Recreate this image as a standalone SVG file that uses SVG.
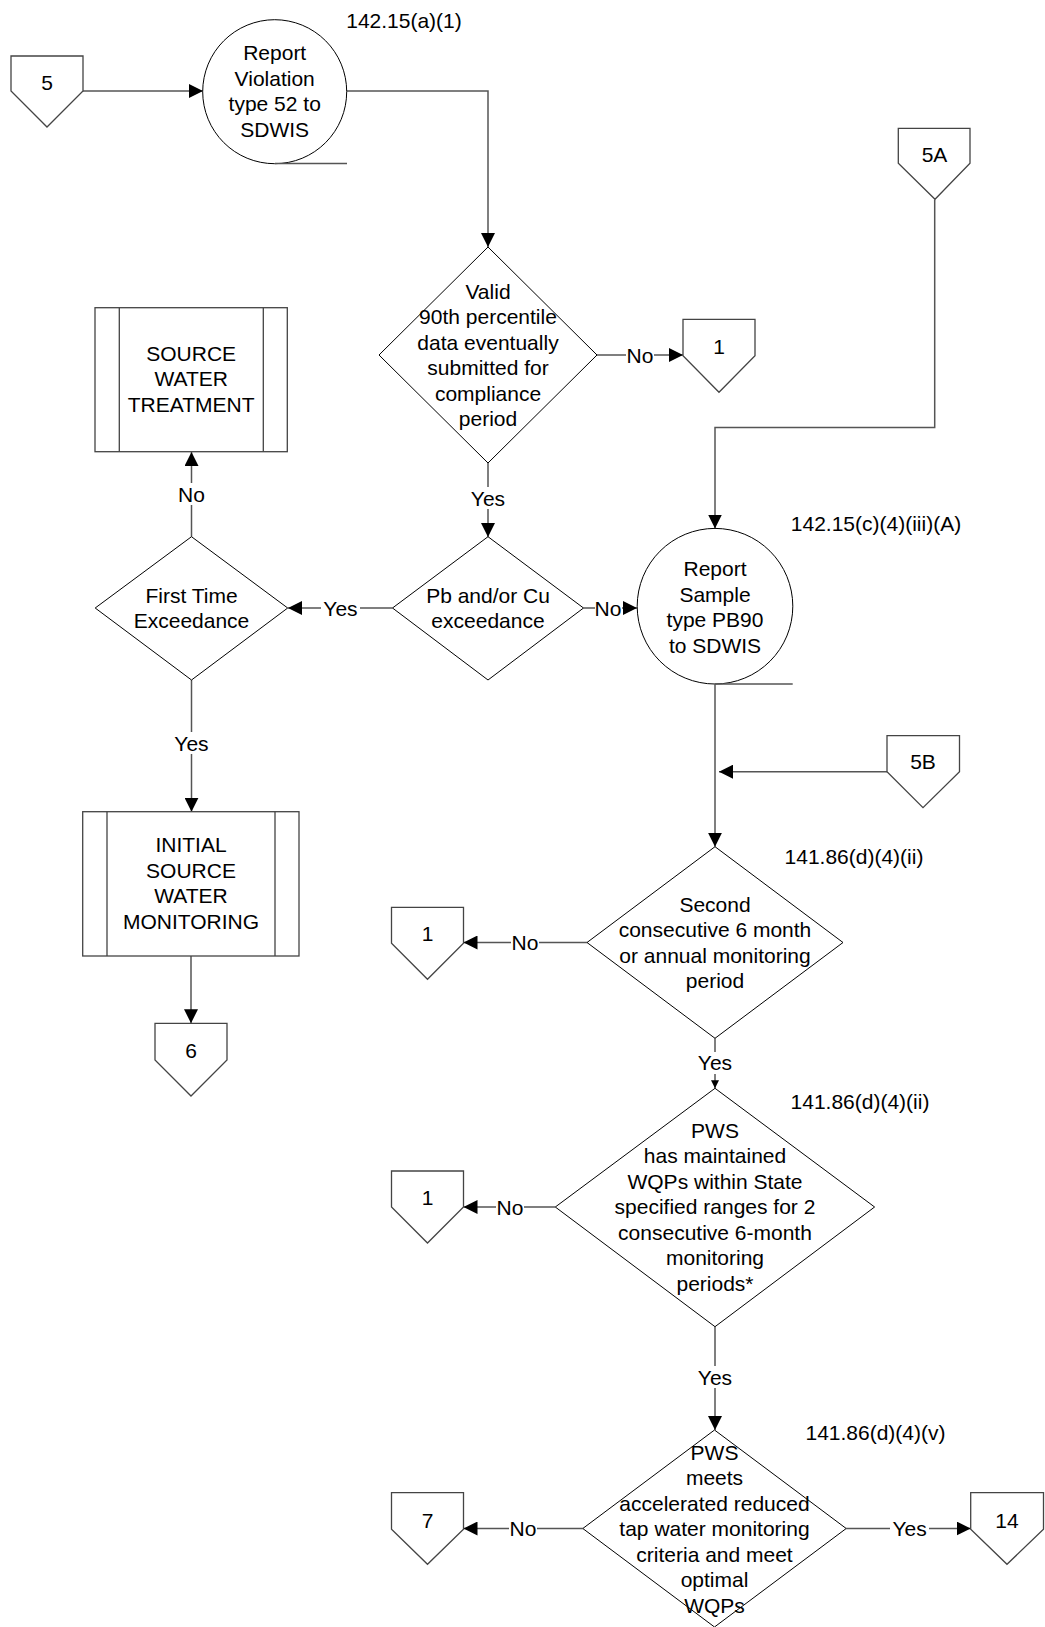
<svg xmlns="http://www.w3.org/2000/svg" width="1045" height="1627" viewBox="0 0 1045 1627">
<style>
.s{fill:#fff;stroke:#000;stroke-width:1}
.o{fill:#fff;stroke:#444;stroke-width:1.3}
.c{fill:none;stroke:#555;stroke-width:1.5}
.t{fill:none;stroke:#555;stroke-width:1.5}
text{font-family:"Liberation Sans",Arial,sans-serif;font-size:21px;fill:#000;text-anchor:middle}
.lb{fill:#fff;stroke:none}
</style>
<defs>
<marker id="ah" viewBox="0 0 14 14" refX="14" refY="7" markerWidth="14" markerHeight="14" orient="auto" markerUnits="userSpaceOnUse"><path d="M0,0 L14,7 L0,14 z" fill="#000"/></marker>
<marker id="ahs" viewBox="0 0 14 14" refX="14" refY="7" markerWidth="8" markerHeight="8" orient="auto" markerUnits="userSpaceOnUse"><path d="M0,0 L14,7 L0,14 z" fill="#000"/></marker>
</defs>
<rect width="1045" height="1627" fill="#fff"/>

<g id="connectors">
<path class="c" d="M83,91 H203" marker-end="url(#ah)"/>
<path class="c" d="M347,91 H488 V247" marker-end="url(#ah)"/>
<path class="c" d="M597,355 H683" marker-end="url(#ah)"/>
<path class="c" d="M488,463 V537" marker-end="url(#ah)"/>
<path class="c" d="M392.5,608 H288" marker-end="url(#ah)"/>
<path class="c" d="M583.5,608 H637" marker-end="url(#ah)"/>
<path class="c" d="M191.5,536.7 V452" marker-end="url(#ah)"/>
<path class="c" d="M191.5,680 V811.7" marker-end="url(#ah)"/>
<path class="c" d="M191,956 V1023.3" marker-end="url(#ah)"/>
<path class="c" d="M934.7,199.5 V427.5 H715 V528.5" marker-end="url(#ah)"/>
<path class="c" d="M715,684.5 V846.7" marker-end="url(#ah)"/>
<path class="c" d="M887,771.7 H719" marker-end="url(#ah)"/>
<path class="c" d="M587,942.5 H463.5" marker-end="url(#ah)"/>
<path class="c" d="M715,1038.3 V1088.3" marker-end="url(#ahs)"/>
<path class="c" d="M555.3,1207 H463.5" marker-end="url(#ah)"/>
<path class="c" d="M715,1326.7 V1430" marker-end="url(#ah)"/>
<path class="c" d="M582.8,1528.5 H463.5" marker-end="url(#ah)"/>
<path class="c" d="M846.2,1528.5 H970.7" marker-end="url(#ah)"/>
<g id="labels">
<rect class="lb" x="626" y="345" width="28" height="20"/><text x="640" y="362.5">No</text>
<rect class="lb" x="470" y="487" width="38" height="22"/><text x="488" y="505.5">Yes</text>
<rect class="lb" x="321" y="598" width="39" height="20"/><text x="340.5" y="615.5">Yes</text>
<rect class="lb" x="595" y="598" width="27" height="20"/><text x="608" y="615.5">No</text>
<rect class="lb" x="177" y="483" width="29" height="22"/><text x="191.5" y="501.5">No</text>
<rect class="lb" x="172" y="732" width="39" height="22"/><text x="191.5" y="750.5">Yes</text>
<rect class="lb" x="511" y="932" width="28" height="20"/><text x="525" y="950">No</text>
<rect class="lb" x="696" y="1052" width="38" height="22"/><text x="715" y="1070">Yes</text>
<rect class="lb" x="496" y="1197" width="28" height="20"/><text x="510" y="1214.5">No</text>
<rect class="lb" x="696" y="1366" width="38" height="22"/><text x="715" y="1384.5">Yes</text>
<rect class="lb" x="509" y="1518" width="28" height="20"/><text x="523" y="1536">No</text>
<rect class="lb" x="890" y="1518" width="39" height="20"/><text x="909.6" y="1536">Yes</text>
</g>
</g>

<g id="offpage-5"><path class="o" d="M11,56 H83 V91 L47,127 L11,91 Z"/><text x="47" y="90">5</text></g>

<g id="report-violation">
<circle class="s" cx="274.7" cy="91.7" r="72"/>
<path class="t" d="M275,163.5 H347"/>
<text><tspan x="274.7" y="60">Report</tspan><tspan x="274.7" y="85.5">Violation</tspan><tspan x="274.7" y="111">type 52 to</tspan><tspan x="274.7" y="136.5">SDWIS</tspan></text>
</g>
<text x="404" y="27.5">142.15(a)(1)</text>

<g id="valid-90th">
<path class="s" d="M488,247 L597,355 L488,463 L379,355 Z"/>
<text><tspan x="488" y="298.5">Valid</tspan><tspan x="488" y="324">90th percentile</tspan><tspan x="488" y="349.5">data eventually</tspan><tspan x="488" y="375">submitted for</tspan><tspan x="488" y="400.5">compliance</tspan><tspan x="488" y="426">period</tspan></text>
</g>

<g id="offpage-1a"><path class="o" d="M683,319.3 H755 V355.7 L719,392.3 L683,355.7 Z"/><text x="719" y="354">1</text></g>

<g id="source-water-treatment">
<rect class="o" x="95" y="307.7" width="192.3" height="144"/>
<path class="o" d="M119.3,307.7 V451.7 M263.3,307.7 V451.7"/>
<text><tspan x="191.2" y="360.5">SOURCE</tspan><tspan x="191.2" y="386">WATER</tspan><tspan x="191.2" y="411.5">TREATMENT</tspan></text>
</g>

<g id="first-time">
<path class="s" d="M191.5,536.7 L287.7,608 L191.5,680 L95.2,608 Z"/>
<text><tspan x="191.5" y="602.5">First Time</tspan><tspan x="191.5" y="628">Exceedance</tspan></text>
</g>

<g id="pb-cu">
<path class="s" d="M488,536.7 L583.5,608 L488,680 L392.5,608 Z"/>
<text><tspan x="488" y="602.5">Pb and/or Cu</tspan><tspan x="488" y="628">exceedance</tspan></text>
</g>

<g id="offpage-5a"><path class="o" d="M898.3,128.3 H970 V163.3 L935,199.3 L898.3,163.3 Z"/><text x="934.5" y="162">5A</text></g>
<text x="876" y="530.5">142.15(c)(4)(iii)(A)</text>

<g id="report-sample">
<circle class="s" cx="715" cy="606.2" r="77.8"/>
<path class="t" d="M715,684 H792.7"/>
<text><tspan x="715" y="576">Report</tspan><tspan x="715" y="601.5">Sample</tspan><tspan x="715" y="627">type PB90</tspan><tspan x="715" y="652.5">to SDWIS</tspan></text>
</g>

<g id="initial-source-water-monitoring">
<rect class="o" x="82.7" y="811.7" width="216.3" height="144.3"/>
<path class="o" d="M107,811.7 V956 M275,811.7 V956"/>
<text><tspan x="191" y="852">INITIAL</tspan><tspan x="191" y="877.5">SOURCE</tspan><tspan x="191" y="903">WATER</tspan><tspan x="191" y="928.5">MONITORING</tspan></text>
</g>

<g id="offpage-6"><path class="o" d="M155,1023.3 H227 V1060 L191,1096 L155,1060 Z"/><text x="191" y="1057.5">6</text></g>

<g id="offpage-5b"><path class="o" d="M887,735.7 H959.5 V771.7 L923,807.7 L887,771.7 Z"/><text x="923" y="769">5B</text></g>
<text x="854" y="864">141.86(d)(4)(ii)</text>

<g id="second-consecutive">
<path class="s" d="M715,846.7 L843,942.5 L715,1038.3 L587,942.5 Z"/>
<text><tspan x="715" y="911.5">Second</tspan><tspan x="715" y="937">consecutive 6 month</tspan><tspan x="715" y="962.5">or annual monitoring</tspan><tspan x="715" y="988">period</tspan></text>
</g>

<g id="offpage-1b"><path class="o" d="M391.5,907.3 H463.5 V943.3 L427.5,979.3 L391.5,943.3 Z"/><text x="427.5" y="940.5">1</text></g>

<text x="860" y="1109">141.86(d)(4)(ii)</text>
<g id="pws-maintained">
<path class="s" d="M715,1088.3 L874.6,1207 L715,1326.7 L555.3,1207 Z"/>
<text><tspan x="715" y="1137.5">PWS</tspan><tspan x="715" y="1163">has maintained</tspan><tspan x="715" y="1188.5">WQPs within State</tspan><tspan x="715" y="1214">specified ranges for 2</tspan><tspan x="715" y="1239.5">consecutive 6-month</tspan><tspan x="715" y="1265">monitoring</tspan><tspan x="715" y="1290.5">periods*</tspan></text>
</g>

<g id="offpage-1c"><path class="o" d="M391.5,1171 H463.5 V1207 L427.5,1243 L391.5,1207 Z"/><text x="427.5" y="1204.5">1</text></g>

<text x="875.5" y="1440">141.86(d)(4)(v)</text>
<g id="pws-meets">
<path class="s" d="M714.5,1430 L846.2,1528.5 L714.5,1627 L582.8,1528.5 Z"/>
<text><tspan x="714.5" y="1459.5">PWS</tspan><tspan x="714.5" y="1485">meets</tspan><tspan x="714.5" y="1510.5">accelerated reduced</tspan><tspan x="714.5" y="1536">tap water monitoring</tspan><tspan x="714.5" y="1561.5">criteria and meet</tspan><tspan x="714.5" y="1587">optimal</tspan><tspan x="714.5" y="1612.5">WQPs</tspan></text>
</g>

<g id="offpage-7"><path class="o" d="M391.5,1492.7 H463.5 V1529.3 L427.5,1564.3 L391.5,1529.3 Z"/><text x="427.5" y="1527.5">7</text></g>
<g id="offpage-14"><path class="o" d="M970.7,1492.7 H1043.5 V1529.3 L1007,1564.3 L970.7,1529.3 Z"/><text x="1007" y="1527.5">14</text></g>
</svg>
